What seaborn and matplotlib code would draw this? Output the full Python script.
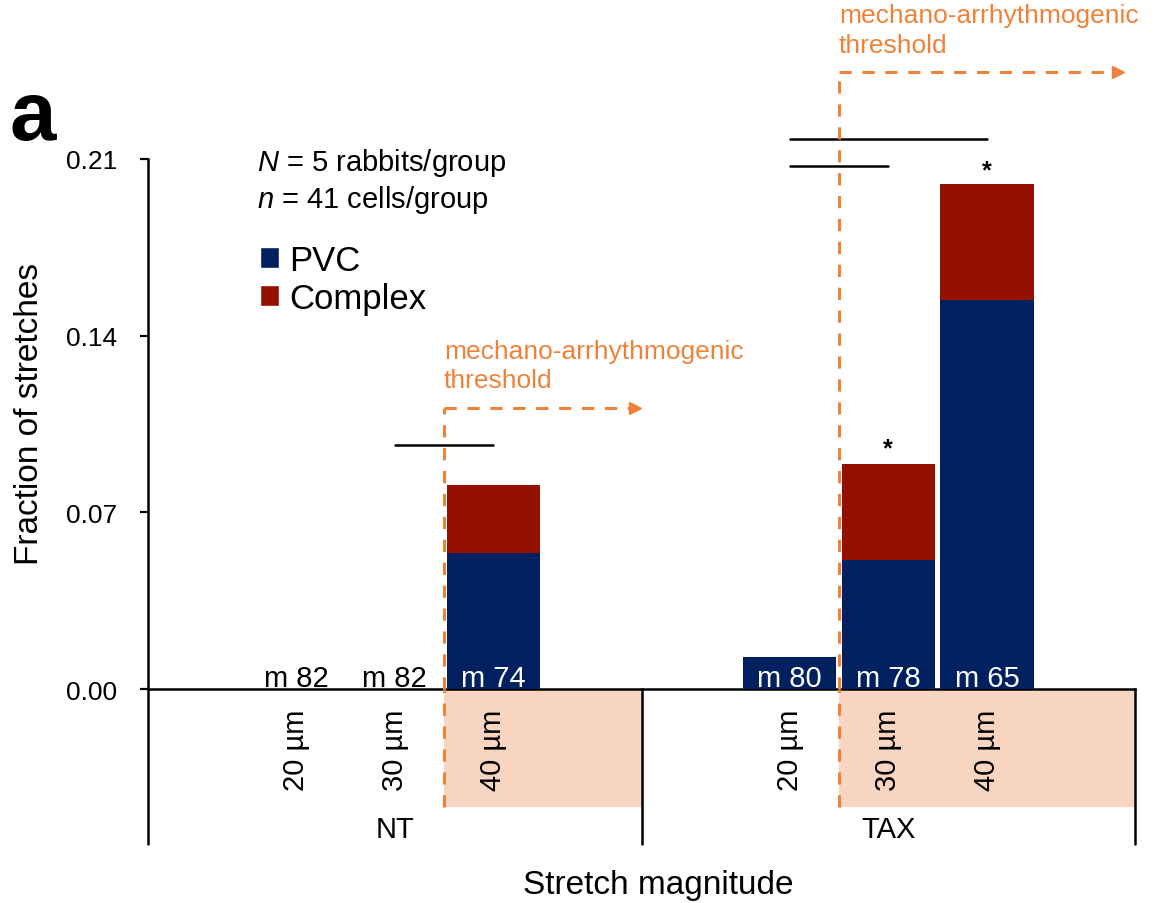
import numpy as np
import pandas as pd
import matplotlib
matplotlib.use('Agg')
import matplotlib.pyplot as plt
import matplotlib.transforms as mtransforms
from matplotlib.patches import Patch, Rectangle
import seaborn as sns

# data (10 slots: NT pad, 20, 30, 40, pad, TAX pad, 20, 30, 40, pad)
slots = ['nt_a', 'nt_20', 'nt_30', 'nt_40', 'nt_b', 'tax_a', 'tax_20', 'tax_30', 'tax_40', 'tax_b']
tick_labels = ['', '20 µm', '30 µm', '40 µm', '', '', '20 µm', '30 µm', '40 µm', '']
pvc = [0, 0, 0, 0.054, 0, 0, 0.0125, 0.051, 0.154, 0]
complex_ = [0, 0, 0, 0.027, 0, 0, 0, 0.038, 0.046, 0]
m_labels = ['', 'm 82', 'm 82', 'm 74', '', '', 'm 80', 'm 78', 'm 65', '']
groups = ['NT', 'TAX']

df = pd.DataFrame({'slot': slots, 'PVC': pvc, 'Complex': complex_})
df['total'] = df['PVC'] + df['Complex']

navy = '#002060'
red = '#941100'
orange = '#EE8238'
shade = '#F8D5C1'

sns.set_style('white')
plt.rcParams['font.family'] = ['Liberation Sans', 'DejaVu Sans']
plt.rcParams['mathtext.fontset'] = 'custom'
plt.rcParams['mathtext.rm'] = 'Liberation Sans'
plt.rcParams['mathtext.it'] = 'Liberation Sans:italic'
for k in ['text.color', 'axes.labelcolor', 'xtick.color', 'ytick.color', 'axes.edgecolor']:
    plt.rcParams[k] = 'black'

fig = plt.figure(figsize=(11.54, 9.04), dpi=100)
ax = fig.add_axes([148 / 1154, 1 - 690 / 904, 987 / 1154, 530 / 904])

# stacked bars: total in red, PVC on top in navy
sns.barplot(data=df, x='slot', y='total', order=slots, color=red, width=0.945,
            linewidth=0, errorbar=None, saturation=1, ax=ax, zorder=3)
sns.barplot(data=df, x='slot', y='PVC', order=slots, color=navy, width=0.945,
            linewidth=0, errorbar=None, saturation=1, ax=ax, zorder=3)

ax.set_xlim(-0.5, 9.5)
ax.set_ylim(0, 0.21)
ax.set_yticks([0, 0.07, 0.14, 0.21])
ax.set_yticklabels(['0.00', '0.07', '0.14', '0.21'])
ax.set_xticks(range(10))
ax.set_xticklabels(tick_labels, rotation=90, fontsize=21)
ax.tick_params(axis='x', length=0, pad=14)
ax.tick_params(axis='y', length=6, width=1.6, pad=16, labelsize=19, direction='out', left=True)

for s in ['top', 'right']:
    ax.spines[s].set_visible(False)
for s in ['left', 'bottom']:
    ax.spines[s].set_linewidth(1.8)
    ax.spines[s].set_color('black')

ax.set_ylabel('Fraction of stretches', fontsize=24)
ax.yaxis.set_label_coords(-0.104, 0.52)
ax.set_xlabel('Stretch magnitude', fontsize=24)
ax.xaxis.set_label_coords(0.517, -0.34)

trans = mtransforms.blended_transform_factory(ax.transData, ax.transAxes)

# shaded region below axis (beyond threshold)
for x0, x1 in [(2.5, 4.5), (6.5, 9.5)]:
    ax.add_patch(Rectangle((x0, -0.223), x1 - x0, 0.223, transform=trans,
                           facecolor=shade, edgecolor='none', clip_on=False, zorder=0))

# group separators
for xv in [-0.5, 4.5, 9.5]:
    ax.plot([xv, xv], [-0.292, 0], transform=trans, color='black', lw=1.8,
            clip_on=False, zorder=4)

for i, g in enumerate(groups):
    ax.text(2 + 5 * i, -0.264, g, transform=trans, ha='center', va='center', fontsize=21)

# m labels at the base of the bars
for i, lab in enumerate(m_labels):
    if not lab:
        continue
    col = 'white' if df['total'][i] > 0 else 'black'
    ax.text(i, 0.0013, lab, ha='center', va='baseline', fontsize=21, color=col, zorder=5)

# thresholds
for xv, ytop, xend, ytext in [(2.5, 0.1113, 4.43, 0.1175), (6.5, 0.2445, 9.33, 0.2505)]:
    ax.plot([xv, xv], [-0.223, 0], transform=trans, color=orange, lw=2.2,
            dashes=(4, 3.5), clip_on=False, zorder=6)
    ax.plot([xv, xv], [0, ytop], color=orange, lw=2.2, dashes=(4, 3.5), clip_on=False, zorder=6)
    ax.plot([xv, xend - 0.05], [ytop, ytop], color=orange, lw=2.2, dashes=(4, 3.5),
            clip_on=False, zorder=6)
    ax.plot([xend], [ytop], marker='>', color=orange, markersize=9, clip_on=False, zorder=6)
    ax.text(xv, ytext, 'mechano-arrhythmogenic\nthreshold', color=orange, fontsize=19,
            ha='left', va='bottom', linespacing=1.3)

# significance bars
for x0, x1, yv in [(2, 3, 0.0967), (6, 8, 0.218), (6, 7, 0.2072)]:
    ax.plot([x0, x1], [yv, yv], color='black', lw=1.8, clip_on=False, zorder=5)
for xv, yv in [(7, 0.0955), (8, 0.2055)]:
    ax.text(xv, yv, '*', ha='center', va='center', fontsize=18, fontweight='bold')

# sample size text
ax.text(0.110, 0.994, '$N$ = 5 rabbits/group', transform=ax.transAxes, fontsize=21,
        ha='left', va='center')
ax.text(0.110, 0.925, '$n$ = 41 cells/group', transform=ax.transAxes, fontsize=21,
        ha='left', va='center')

handles = [Patch(facecolor=navy, label='PVC'), Patch(facecolor=red, label='Complex')]
ax.legend(handles=handles, loc='upper left', bbox_to_anchor=(0.1135, 0.84), frameon=False,
          fontsize=25, handlelength=0.55, handleheight=0.55, handletextpad=0.3,
          labelspacing=0.15, borderpad=0, borderaxespad=0)

fig.text(10 / 1154, 1 - 140 / 904, 'a', fontsize=60, fontweight='bold', ha='left', va='baseline')

fig.savefig('out.png', dpi=100)
